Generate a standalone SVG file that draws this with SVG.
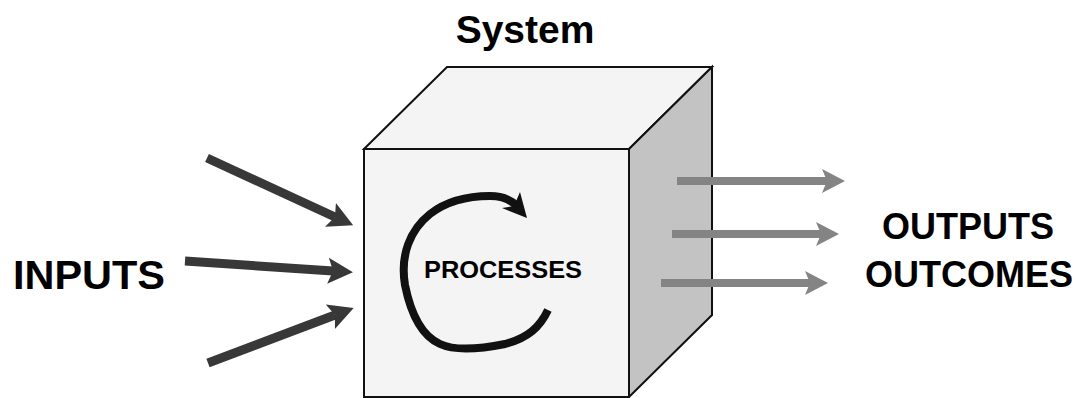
<svg xmlns="http://www.w3.org/2000/svg" width="1077" height="398" viewBox="0 0 1077 398">
  <style>
    .face { stroke: #111; stroke-width: 2; stroke-linejoin: miter; }
    .light { fill: #f3f4f3; }
    .shade { fill: #c3c3c3; }
    .label { font-family: "Liberation Sans", Arial, sans-serif; font-weight: bold; fill: #000; text-anchor: middle; }
    .in { stroke: #383838; stroke-width: 9; fill: none; marker-end: url(#headIn); }
    .out { stroke: #848484; stroke-width: 8; fill: none; marker-end: url(#headOut); }
  </style>
  <defs>
    <marker id="headIn" markerUnits="userSpaceOnUse" markerWidth="30" markerHeight="30" viewBox="0 -15 30 30" refX="5" refY="0" orient="auto">
      <path d="M0,-13 L25,0 L0,13 L5,0 Z" fill="#383838"/>
    </marker>
    <marker id="headOut" markerUnits="userSpaceOnUse" markerWidth="30" markerHeight="30" viewBox="0 -15 30 30" refX="5" refY="0" orient="auto">
      <path d="M0,-12 L23,0 L0,12 L5,0 Z" fill="#848484"/>
    </marker>
  </defs>

  <rect width="1077" height="398" fill="#fff"/>

  <!-- the system box -->
  <g id="system">
    <polygon class="face light" points="364,149 447,67 712,67 629,149"/>
    <polygon class="face shade" points="629,149 712,67 712,315 629,397"/>
    <rect class="face light" x="364" y="149" width="265" height="248"/>
    <text class="label" x="525" y="43" font-size="39">System</text>
  </g>

  <!-- circular process arrow and label -->
  <g id="processes">
    <path d="M548,310 C540,327 528,338 505,344 C480,349 455,351 440,344 C420,335 410,310 405,285 C400,255 410,230 430,214 C448,200 470,196 490,196 C503,196 511,200 517,206" fill="none" stroke="#111" stroke-width="8"/>
    <polygon points="520,192 527,218 502,208 514,206" fill="#111"/>
    <text class="label" x="503" y="278" font-size="24" textLength="158" lengthAdjust="spacingAndGlyphs">PROCESSES</text>
  </g>

  <g id="inputs">
    <text class="label" x="89" y="289" font-size="40" textLength="152" lengthAdjust="spacingAndGlyphs">INPUTS</text>
  </g>

  <g id="outputs">
    <text class="label" x="968" y="239" font-size="36">OUTPUTS</text>
    <text class="label" x="969" y="287" font-size="36">OUTCOMES</text>
  </g>

  <!-- connectors -->
  <g id="connectors">
    <line class="in" x1="207" y1="158" x2="335" y2="217"/>
    <line class="in" x1="185" y1="261" x2="333" y2="271"/>
    <line class="in" x1="208" y1="363" x2="335" y2="315"/>
    <line class="out" x1="677" y1="181" x2="827" y2="181"/>
    <line class="out" x1="672" y1="234" x2="821" y2="234"/>
    <line class="out" x1="661" y1="283" x2="810" y2="283"/>
  </g>
</svg>
